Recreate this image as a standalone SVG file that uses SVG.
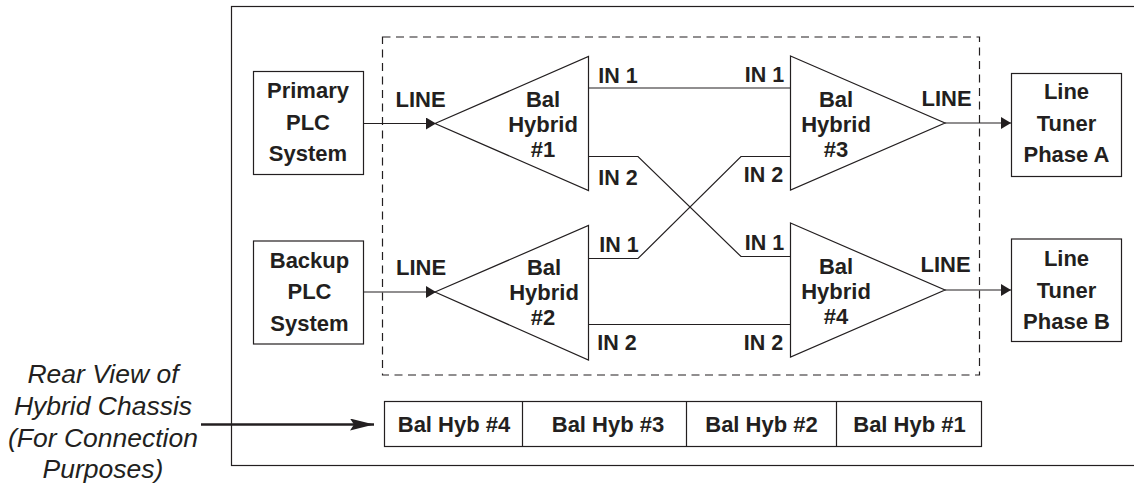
<svg xmlns="http://www.w3.org/2000/svg" width="1134" height="487" viewBox="0 0 1134 487">
<style>
text{font-family:"Liberation Sans",Arial,sans-serif;font-size:22px;font-weight:700;fill:#231f20;text-anchor:middle}
.s{fill:none;stroke:#231f20;stroke-width:1.2}
.b{fill:#fff;stroke:#231f20;stroke-width:1.2}
.i{font-style:italic;font-weight:400;font-size:26.500px}
.p{font-size:21.500px}
</style>
<defs>
<marker id="a" markerUnits="userSpaceOnUse" markerWidth="11" markerHeight="12" refX="10" refY="6" orient="auto"><path d="M0 0L10 6L0 12z" fill="#231f20"/></marker>
<marker id="c" markerUnits="userSpaceOnUse" markerWidth="24" markerHeight="12" refX="24" refY="6" orient="auto"><path d="M0 0L24 6L0 12L4 6z" fill="#231f20"/></marker>
</defs>
<rect x="231.500" y="6.500" width="920" height="459" class="s"/>
<rect id="boundary" x="382.500" y="37" width="597" height="338" class="s" stroke-dasharray="8 5.500"/>
<g id="connectors">
<path class="s" marker-end="url(#a)" d="M363 123.500H436"/>
<path class="s" marker-end="url(#a)" d="M363 292H436"/>
<path class="s" marker-end="url(#a)" d="M945 123H1011"/>
<path class="s" marker-end="url(#a)" d="M945 290H1011"/>
<path class="s" d="M588 88H790"/>
<path class="s" d="M588 156.500H638L741 256.500H790"/>
<path class="s" d="M588 258.500H638L741 156.500H790"/>
<path class="s" d="M588 324.500H790"/>
<path fill="none" stroke="#231f20" stroke-width="2.500" marker-end="url(#c)" d="M201 424.500H374"/>
</g>
<g id="primary"><rect class="b" x="253.500" y="71.500" width="110" height="103"/><text x="308" y="98">Primary</text><text x="308" y="130">PLC</text><text x="308" y="161">System</text></g>
<g id="backup"><rect class="b" x="253.500" y="241" width="110" height="103"/><text x="309.500" y="268">Backup</text><text x="309.500" y="299">PLC</text><text x="309.500" y="331">System</text></g>
<g id="tunerA"><rect class="b" x="1011.500" y="73.500" width="110" height="103"/><text x="1066.500" y="99">Line</text><text x="1066.500" y="131">Tuner</text><text x="1066.500" y="162">Phase A</text></g>
<g id="tunerB"><rect class="b" x="1011.500" y="239" width="110" height="102.500"/><text x="1066.500" y="266">Line</text><text x="1066.500" y="298">Tuner</text><text x="1066.500" y="329">Phase B</text></g>
<g id="hybrid1"><path class="b" d="M435 123.500L588.500 56.500V190.500Z"/><text x="543" y="107">Bal</text><text x="543" y="132">Hybrid</text><text x="543" y="157">#1</text></g>
<g id="hybrid2"><path class="b" d="M435 292L588.500 225.500V360Z"/><text x="544" y="275">Bal</text><text x="544" y="300">Hybrid</text><text x="543" y="325">#2</text></g>
<g id="hybrid3"><path class="b" d="M790.500 56L945 123L790.500 190Z"/><text x="836" y="107">Bal</text><text x="836" y="132">Hybrid</text><text x="836" y="157">#3</text></g>
<g id="hybrid4"><path class="b" d="M790.500 223L945 290L790.500 357Z"/><text x="836" y="274">Bal</text><text x="836" y="299">Hybrid</text><text x="836" y="324">#4</text></g>
<g id="ports">
<text x="420.500" y="107">LINE</text><text x="421" y="275">LINE</text><text x="946.500" y="106">LINE</text><text x="945.500" y="272">LINE</text>
<text class="p" x="618" y="83">IN 1</text><text class="p" x="618" y="185">IN 2</text><text class="p" x="619" y="252">IN 1</text><text class="p" x="617" y="349.500">IN 2</text>
<text class="p" x="764.500" y="82">IN 1</text><text class="p" x="763.500" y="182">IN 2</text><text class="p" x="764.500" y="249.500">IN 1</text><text class="p" x="763.500" y="349.500">IN 2</text>
</g>
<g id="chassis"><rect class="b" x="384.500" y="401.500" width="597" height="45"/>
<path class="s" d="M522.500 401.500V446.500M686.500 401.500V446.500M836.500 401.500V446.500"/>
<text x="454" y="432">Bal Hyb #4</text><text x="608" y="432">Bal Hyb #3</text><text x="761.500" y="432">Bal Hyb #2</text><text x="909.500" y="432">Bal Hyb #1</text></g>
<g id="note"><text class="i" x="103" y="383">Rear View of</text><text class="i" x="103" y="415">Hybrid Chassis</text><text class="i" x="103" y="447">(For Connection</text><text class="i" x="103" y="478">Purposes)</text></g>
</svg>
